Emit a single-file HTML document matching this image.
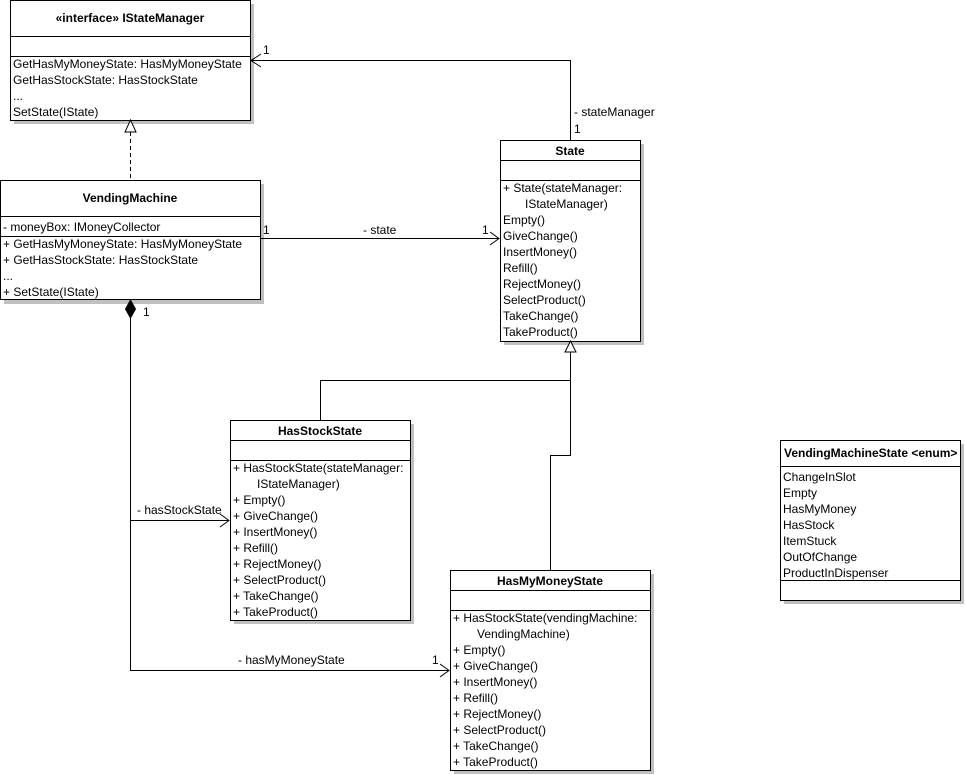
<!DOCTYPE html>
<html><head><meta charset="utf-8"><style>
html,body{margin:0;padding:0;background:#fff;width:965px;height:775px;overflow:hidden}
svg text{font-family:"Liberation Sans",Arial,sans-serif;font-size:12px;fill:#000}
.b{font-weight:bold}
</style></head><body>
<svg width="965" height="775" viewBox="0 0 965 775" xmlns="http://www.w3.org/2000/svg">
<g fill="#c0c0c0">
<rect x="14" y="4" width="240" height="120"/>
<rect x="4" y="184" width="260" height="120"/>
<rect x="504" y="144" width="140" height="201"/>
<rect x="234" y="424" width="180" height="200"/>
<rect x="454" y="574" width="200" height="200"/>
<rect x="784" y="444" width="180" height="160"/>
</g>
<g fill="#fff" stroke="#000" stroke-width="1">
<rect x="10.5" y="0.5" width="240" height="120"/>
<rect x="0.5" y="180.5" width="260" height="119"/>
<rect x="500.5" y="140.5" width="140" height="201"/>
<rect x="230.5" y="420.5" width="180" height="200"/>
<rect x="450.5" y="570.5" width="200" height="200"/>
<rect x="780.5" y="440.5" width="180" height="160"/>
</g>
<g stroke="#000" stroke-width="1" fill="none">
<path d="M10 36.5H250M10 56.5H250"/>
<path d="M0 216.5H260M0 236.5H260"/>
<path d="M500 160.5H640M500 180.5H640"/>
<path d="M230 440.5H410M230 460.5H410"/>
<path d="M450 590.5H650M450 610.5H650"/>
<path d="M780 466.5H960M780 580.5H960"/>
<!-- stateManager -->
<path d="M570.5 140V60.5H251"/>
<path d="M261 54L251 60.5L261 67"/>
<!-- realization -->
<path d="M130.5 132V180" stroke-dasharray="4,3"/>
<!-- state assoc -->
<path d="M260 238.5H499"/>
<path d="M490 232L499 238.5L490 245"/>
<!-- generalization -->
<path d="M570.5 352V455.5H550.5V570"/>
<path d="M570.5 380.5H320.5V420"/>
<!-- composition -->
<path d="M130.5 318V670.5H449"/>
<path d="M130.5 520.5H229"/>
<path d="M220 514L229 520.5L220 527"/>
<path d="M440 664L449 670.5L440 677"/>
</g>
<path d="M570.5 341L565 352H576Z" fill="#fff" stroke="#000"/>
<path d="M130.5 120L125 132H136Z" fill="#fff" stroke="#000"/>
<path d="M130.5 300L125.5 309L130.5 318L135.5 309Z" fill="#000" stroke="#000"/>

<text class="b" x="130" y="22" text-anchor="middle">«interface» IStateManager</text>
<text x="13" y="68">GetHasMyMoneyState: HasMyMoneyState</text>
<text x="13" y="84">GetHasStockState: HasStockState</text>
<text x="13" y="100">...</text>
<text x="13" y="116">SetState(IState)</text>

<text class="b" x="130" y="202" text-anchor="middle">VendingMachine</text>
<text x="3" y="231">- moneyBox: IMoneyCollector</text>
<text x="3" y="248">+ GetHasMyMoneyState: HasMyMoneyState</text>
<text x="3" y="264">+ GetHasStockState: HasStockState</text>
<text x="3" y="280">...</text>
<text x="3" y="296">+ SetState(IState)</text>

<text class="b" x="570" y="155" text-anchor="middle">State</text>
<text x="503" y="192">+ State(stateManager:</text>
<text x="525" y="208">IStateManager)</text>
<text x="503" y="224">Empty()</text>
<text x="503" y="240">GiveChange()</text>
<text x="503" y="256">InsertMoney()</text>
<text x="503" y="272">Refill()</text>
<text x="503" y="288">RejectMoney()</text>
<text x="503" y="304">SelectProduct()</text>
<text x="503" y="320">TakeChange()</text>
<text x="503" y="336">TakeProduct()</text>

<text class="b" x="320" y="435" text-anchor="middle">HasStockState</text>
<text x="233" y="472">+ HasStockState(stateManager:</text>
<text x="257" y="488">IStateManager)</text>
<text x="233" y="504">+ Empty()</text>
<text x="233" y="520">+ GiveChange()</text>
<text x="233" y="536">+ InsertMoney()</text>
<text x="233" y="552">+ Refill()</text>
<text x="233" y="568">+ RejectMoney()</text>
<text x="233" y="584">+ SelectProduct()</text>
<text x="233" y="600">+ TakeChange()</text>
<text x="233" y="616">+ TakeProduct()</text>

<text class="b" x="550" y="585" text-anchor="middle">HasMyMoneyState</text>
<text x="453" y="622">+ HasStockState(vendingMachine:</text>
<text x="477" y="638">VendingMachine)</text>
<text x="453" y="654">+ Empty()</text>
<text x="453" y="670">+ GiveChange()</text>
<text x="453" y="686">+ InsertMoney()</text>
<text x="453" y="702">+ Refill()</text>
<text x="453" y="718">+ RejectMoney()</text>
<text x="453" y="734">+ SelectProduct()</text>
<text x="453" y="750">+ TakeChange()</text>
<text x="453" y="766">+ TakeProduct()</text>

<text class="b" x="784" y="457">VendingMachineState &lt;enum&gt;</text>
<text x="783" y="481">ChangeInSlot</text>
<text x="783" y="497">Empty</text>
<text x="783" y="513">HasMyMoney</text>
<text x="783" y="529">HasStock</text>
<text x="783" y="545">ItemStuck</text>
<text x="783" y="561">OutOfChange</text>
<text x="783" y="577">ProductInDispenser</text>

<text x="263" y="54">1</text>
<text x="574" y="116">- stateManager</text>
<text x="574" y="133">1</text>
<text x="263" y="234">1</text>
<text x="363" y="234">- state</text>
<text x="482" y="234">1</text>
<text x="143" y="316">1</text>
<text x="137" y="514">- hasStockState</text>
<text x="238" y="664">- hasMyMoneyState</text>
<text x="432" y="664">1</text>
</svg>
</body></html>
